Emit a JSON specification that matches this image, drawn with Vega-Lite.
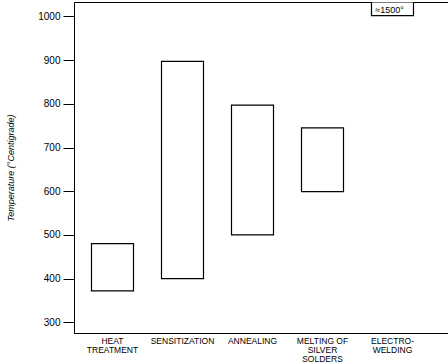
{
  "$schema": "https://vega.github.io/schema/vega-lite/v6.json",
  "width": 374,
  "height": 331,
  "autosize": {"type": "none"},
  "padding": {"left": 74, "top": 2, "right": 0, "bottom": 31},
  "background": "white",
  "config": {
    "font": "Liberation Sans",
    "view": {"stroke": "black", "strokeWidth": 1}
  },
  "data": {
    "values": [
      {"process": "HEAT|TREATMENT", "low": 372, "high": 480, "note": ""},
      {"process": "SENSITIZATION", "low": 400, "high": 897, "note": ""},
      {"process": "ANNEALING", "low": 500, "high": 797, "note": ""},
      {"process": "MELTING OF|SILVER|SOLDERS", "low": 599, "high": 745, "note": ""},
      {"process": "ELECTRO-|WELDING", "low": 1002, "high": 1033, "note": "≈1500°"}
    ]
  },
  "encoding": {
    "x": {
      "field": "process",
      "type": "nominal",
      "sort": null,
      "scale": {"range": [0, 357], "paddingInner": 0.4, "paddingOuter": 0.25},
      "axis": {
        "title": null,
        "labelAngle": 0,
        "ticks": false,
        "domainColor": "black",
        "labelColor": "black",
        "labelFontSize": 8.5,
        "labelLineHeight": 9,
        "labelPadding": 3,
        "labelBaseline": "top",
        "labelExpr": "split(datum.label, '|')"
      }
    }
  },
  "layer": [
    {
      "mark": {"type": "bar", "fill": "white", "stroke": "black", "strokeWidth": 1.2, "clip": true},
      "encoding": {
        "y": {
          "field": "low",
          "type": "quantitative",
          "scale": {"domain": [275.5, 1033], "nice": false, "zero": false},
          "axis": {
            "title": "Temperature (°Centigrade)",
            "titleFontStyle": "italic",
            "titleFontWeight": "normal",
            "titleFontSize": 9,
            "titleColor": "black",
            "titlePadding": 22,
            "values": [300, 400, 500, 600, 700, 800, 900, 1000],
            "format": "d",
            "grid": false,
            "tickSize": 11,
            "tickColor": "black",
            "domainColor": "black",
            "labelColor": "black",
            "labelFontSize": 10,
            "labelPadding": 3
          }
        },
        "y2": {"field": "high"}
      }
    },
    {
      "mark": {"type": "text", "fontSize": 9, "color": "black", "dx": -3},
      "encoding": {
        "y": {"value": 8},
        "text": {"field": "note"}
      }
    }
  ]
}
